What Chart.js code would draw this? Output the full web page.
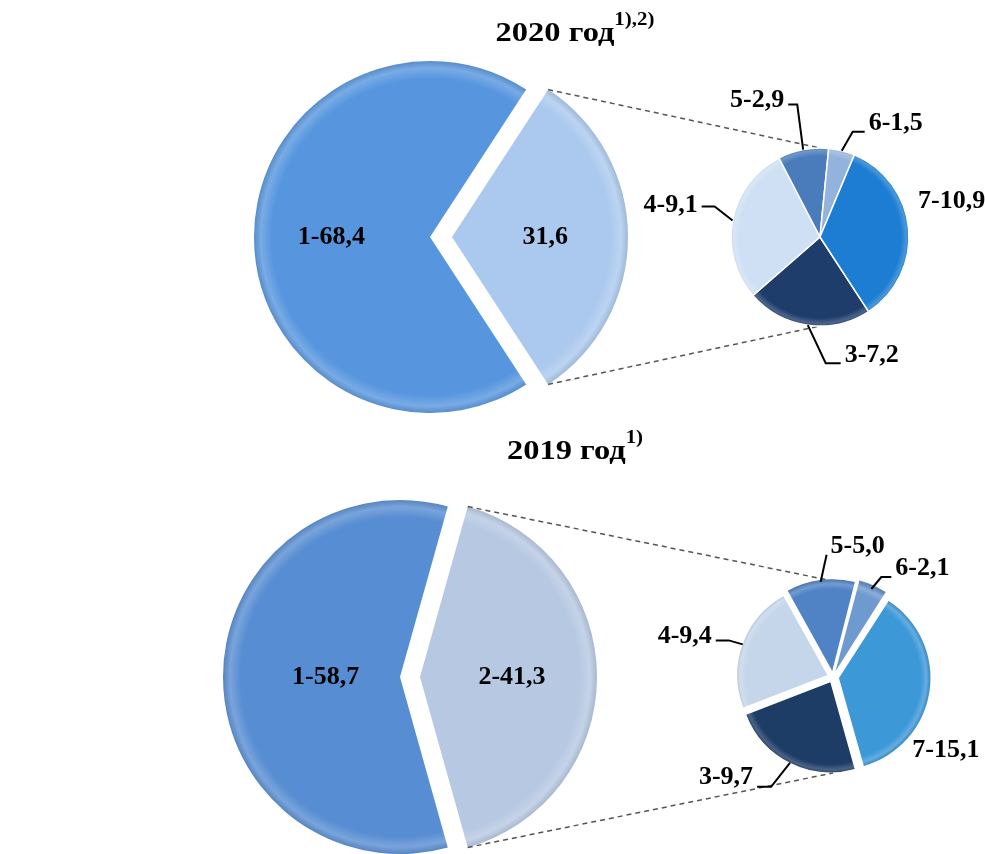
<!DOCTYPE html>
<html lang="ru">
<head>
<meta charset="utf-8">
<title>2020 год / 2019 год</title>
<script src="https://cdn.jsdelivr.net/npm/chart.js@4.4.1/dist/chart.umd.min.js"></script>
<style>
  html, body { margin: 0; padding: 0; background: #fff; }
  #stage { position: relative; width: 985px; height: 854px; overflow: hidden; }
  #stage canvas { position: absolute; left: 0; top: 0; }
  .title {
    position: absolute; left: 375px; width: 400px; text-align: center;
    font: bold 28px "Liberation Serif", "Times New Roman", serif; line-height: 32px; color: #000;
    transform: scaleX(1.16); transform-origin: 200px 0;
  }
  .title sup { font-size: 18px; vertical-align: baseline; position: relative; top: -16px; }
</style>
</head>
<body>
<div id="stage">
  <canvas id="big2020a" width="985" height="854"></canvas>
  <canvas id="big2020b" width="985" height="854"></canvas>
  <canvas id="small2020" width="985" height="854"></canvas>
  <canvas id="big2019a" width="985" height="854"></canvas>
  <canvas id="big2019b" width="985" height="854"></canvas>
  <canvas id="small2019" width="985" height="854"></canvas>
  <div class="title" style="top:16px">2020 год<sup>1),2)</sup></div>
  <div class="title" style="top:434px">2019 год<sup>1)</sup></div>
</div>
<script>
const W = 985, H = 854;

// 2020 год
const bigCats2020 = ['1', '2'];
const bigValues2020 = [68.4, 31.6];
const smallCats2020 = ['3', '4', '5', '6', '7'];
const smallValues2020 = [7.2, 9.1, 2.9, 1.5, 10.9];

// 2019 год
const bigCats2019 = ['1', '2'];
const bigValues2019 = [58.7, 41.3];
const smallCats2019 = ['3', '4', '5', '6', '7'];
const smallValues2019 = [9.7, 9.4, 5.0, 2.1, 15.1];

// цвета
const bigColors2020 = ['#5796de', '#abc9ee'];
const smallColors2020 = ['#1f3d6b', '#cfe0f5', '#4a7cbc', '#93b2dc', '#1c7dd2'];
const bigColors2019 = ['#578dd2', '#b6c8e2'];
const smallColors2019 = ['#1d3c66', '#c6d6ea', '#4f83c5', '#6f9ad0', '#3d98d8'];

const FONT = 'bold 26px "Liberation Serif", "Times New Roman", serif';
const charts = {};

const fmt = v => v.toFixed(1).replace('.', ',');

function mix(hex, hex2, t) {
    const a = parseInt(hex.slice(1), 16), b = parseInt(hex2.slice(1), 16);
    const ch = s => Math.round(((a >> s) & 255) * (1 - t) + ((b >> s) & 255) * t);
    return 'rgb(' + ch(16) + ',' + ch(8) + ',' + ch(0) + ')';
}

// лёгкий "объём" по краю сектора
function bevel(ctx, cx, cy, r, hex) {
    const g = ctx.createRadialGradient(cx, cy, 0, cx, cy, r);
    g.addColorStop(0, hex);
    g.addColorStop(0.89, hex);
    g.addColorStop(0.95, mix(hex, '#ffffff', 0.2));
    g.addColorStop(1, mix(hex, '#000000', 0.12));
    return g;
}

// подписи секторов
const sliceLabels = {
    id: 'sliceLabels',
    afterDatasetsDraw(chart, args, opts) {
        if (!opts || !opts.items) return;
        const ctx = chart.ctx;
        const meta = chart.getDatasetMeta(0);
        const cats = chart.data.labels;
        const vals = chart.data.datasets[0].data;
        const shift = opts.explode || 0;
        ctx.save();
        ctx.font = FONT;
        ctx.fillStyle = '#000';
        ctx.strokeStyle = '#000';
        ctx.lineWidth = 2;
        ctx.textAlign = 'center';
        ctx.textBaseline = 'middle';
        opts.items.forEach(it => {
            const arc = meta.data[it.i];
            const mid = (arc.startAngle + arc.endAngle) / 2;
            const text = (it.noCat ? '' : cats[it.i] + '-') + fmt(vals[it.i]);
            if (it.inside) {
                const rr = arc.outerRadius * it.inside;
                ctx.fillText(text, arc.x + Math.cos(mid) * rr, arc.y + Math.sin(mid) * rr);
                return;
            }
            const er = arc.outerRadius + shift;
            const ex = arc.x + Math.cos(mid) * er, ey = arc.y + Math.sin(mid) * er;
            const tx = ex + it.dx, ty = ey + it.dy;
            ctx.fillText(text, tx, ty);
            if (it.side) {
                const w = ctx.measureText(text).width;
                const sgn = it.side === 'left' ? -1 : 1;
                const ax = tx + sgn * (w / 2 + 4), ay = ty + it.ly;
                const bx = ax + sgn * it.elbow;
                ctx.beginPath();
                ctx.moveTo(ax, ay);
                ctx.lineTo(bx, ay);
                ctx.lineTo(ex, ey);
                ctx.stroke();
            }
        });
        ctx.restore();
    }
};

// пунктирные линии от выдвинутого сектора к малой диаграмме
const connector = {
    id: 'connector',
    beforeDatasetsDraw(chart, args, opts) {
        if (!opts || !opts.source || !charts[opts.source]) return;
        const arc = charts[opts.source].getDatasetMeta(0).data[1];
        const small = chart.getDatasetMeta(0).data[0];
        const r = small.outerRadius + (opts.explode || 0);
        const R = arc.outerRadius;
        const ctx = chart.ctx;
        ctx.save();
        ctx.strokeStyle = '#555';
        ctx.lineWidth = 1.5;
        ctx.setLineDash([5, 4]);
        ctx.beginPath();
        ctx.moveTo(arc.x + Math.cos(arc.startAngle) * R, arc.y + Math.sin(arc.startAngle) * R);
        ctx.lineTo(small.x, small.y - r);
        ctx.moveTo(arc.x + Math.cos(arc.endAngle) * R, arc.y + Math.sin(arc.endAngle) * R);
        ctx.lineTo(small.x, small.y + r);
        ctx.stroke();
        ctx.restore();
    }
};

function makePie(id, o) {
    return new Chart(document.getElementById(id), {
        type: 'pie',
        data: {
            labels: o.cats,
            datasets: [{
                data: o.values,
                backgroundColor: c => {
                    const col = o.colors[c.dataIndex];
                    if (!col) return 'rgba(0,0,0,0)';
                    return bevel(c.chart.ctx, o.cx, o.cy, o.r + 2, col);
                },
                borderColor: '#ffffff',
                borderWidth: o.border || 0,
                offset: (o.explode || 0) * 4,
                hoverOffset: 0,
                clip: false
            }]
        },
        options: {
            responsive: false,
            animation: false,
            events: [],
            rotation: o.rotation,
            radius: o.r,
            layout: {
                padding: { left: o.cx - 50, right: W - o.cx - 50, top: o.cy - 50, bottom: H - o.cy - 50 }
            },
            plugins: {
                legend: { display: false },
                tooltip: { enabled: false },
                title: { display: false },
                sliceLabels: o.labels,
                connector: o.connector || {}
            }
        },
        plugins: [sliceLabels, connector]
    });
}

// поворот: сектор 2 по центру справа, малая диаграмма начинается с того же угла
const rot2020 = 90 + bigValues2020[1] / (bigValues2020[0] + bigValues2020[1]) * 180;
const rot2019 = 90 + bigValues2019[1] / (bigValues2019[0] + bigValues2019[1]) * 180;

// 2020
charts.big2020a = makePie('big2020a', {
    cats: bigCats2020, values: bigValues2020, colors: [bigColors2020[0], null],
    cx: 430, cy: 237, r: 176, rotation: rot2020,
    labels: { items: [{ i: 0, inside: 0.56 }] }
});
charts.big2020b = makePie('big2020b', {
    cats: bigCats2020, values: bigValues2020, colors: [null, bigColors2020[1]],
    cx: 452, cy: 237, r: 176, rotation: rot2020,
    labels: { items: [{ i: 1, inside: 0.53, noCat: true }] }
});
charts.small2020 = makePie('small2020', {
    cats: smallCats2020, values: smallValues2020, colors: smallColors2020,
    cx: 820, cy: 237, r: 89, rotation: rot2020, border: 1.5,
    connector: { source: 'big2020b' },
    labels: {
        items: [
            { i: 0, dx: 64, dy: 30, side: 'left', ly: 8, elbow: 15 },
            { i: 1, dx: -62, dy: -15, side: 'right', ly: 1, elbow: 13 },
            { i: 2, dx: -46, dy: -49, side: 'right', ly: 4, elbow: 9 },
            { i: 3, dx: 54, dy: -27, side: 'left', ly: 8, elbow: 12 },
            { i: 4, dx: 43, dy: -28 }
        ]
    }
});

// 2019
charts.big2019a = makePie('big2019a', {
    cats: bigCats2019, values: bigValues2019, colors: [bigColors2019[0], null],
    cx: 400, cy: 677, r: 177, rotation: rot2019,
    labels: { items: [{ i: 0, inside: 0.42 }] }
});
charts.big2019b = makePie('big2019b', {
    cats: bigCats2019, values: bigValues2019, colors: [null, bigColors2019[1]],
    cx: 420, cy: 677, r: 177, rotation: rot2019,
    labels: { items: [{ i: 1, inside: 0.52 }] }
});
charts.small2019 = makePie('small2019', {
    cats: smallCats2019, values: smallValues2019, colors: smallColors2019,
    cx: 833, cy: 677, r: 90, rotation: rot2019, explode: 6,
    connector: { source: 'big2019b', explode: 6 },
    labels: {
        explode: 6,
        items: [
            { i: 0, dx: -64, dy: 14, side: 'right', ly: 10, elbow: 14 },
            { i: 1, dx: -58, dy: -8, side: 'right', ly: 4, elbow: 13 },
            { i: 2, dx: 37, dy: -36, side: 'left', ly: 9, elbow: 0 },
            { i: 3, dx: 51, dy: -21, side: 'left', ly: 9, elbow: 10 },
            { i: 4, dx: 18, dy: 59 }
        ]
    }
});
</script>
</body>
</html>
